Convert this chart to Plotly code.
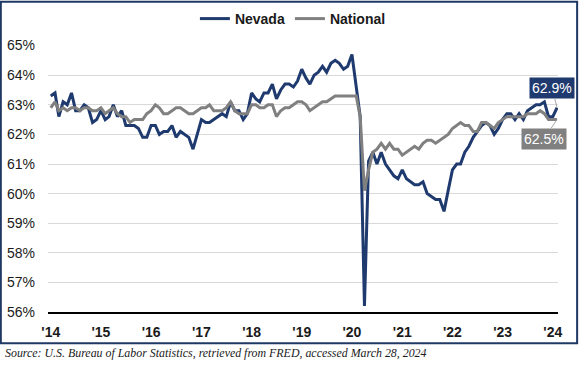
import plotly.graph_objects as go
import pandas as pd

dates = pd.date_range("2014-01-01", "2024-02-01", freq="MS")

nevada = [
    63.3, 63.4, 62.6, 63.1, 63.0, 63.4, 62.8, 62.8, 63.0, 62.9, 62.4, 62.5,
    62.8, 62.5, 62.6, 63.0, 62.6, 62.8, 62.3, 62.3, 62.3, 62.2, 61.9, 61.9,
    62.3, 62.3, 62.0, 62.1, 62.1, 62.3, 61.9, 62.1, 62.0, 61.9, 61.5, 62.0,
    62.5, 62.4, 62.4, 62.5, 62.6, 62.7, 62.6, 63.1, 62.8, 62.8, 62.5, 62.7,
    63.4, 63.2, 63.1, 63.4, 63.4, 63.7, 63.2, 63.5, 63.7, 63.7, 63.6, 63.8,
    64.2, 63.9, 63.7, 64.0, 64.1, 64.3, 64.1, 64.4, 64.5, 64.4, 64.2, 64.3,
    64.7, 63.6, 62.6, 56.2, 61.1, 61.4, 61.0, 61.4, 61.0, 60.8, 60.6, 60.5,
    60.8, 60.5, 60.4, 60.3, 60.3, 60.4, 60.0, 59.9, 59.8, 59.8, 59.4, 60.1,
    60.8, 61.0, 61.0, 61.4, 61.6, 61.9, 62.1, 62.3, 62.4, 62.3, 62.0, 62.2,
    62.5, 62.7, 62.7, 62.5, 62.7, 62.5, 62.8, 62.9, 63.0, 63.0, 63.1, 62.6,
    62.6, 62.9,
]

national = [
    62.9, 63.1, 62.8, 62.9, 62.8, 62.9, 62.9, 62.8, 62.9, 62.9, 62.8, 62.8,
    62.9, 62.7, 62.8, 62.9, 62.7, 62.6, 62.6, 62.4, 62.5, 62.5, 62.5, 62.7,
    62.8, 63.0, 62.9, 62.7, 62.7, 62.8, 62.9, 62.9, 62.8, 62.7, 62.7, 62.8,
    62.9, 62.9, 63.0, 62.8, 62.8, 62.8, 62.9, 63.1, 62.8, 62.7, 62.7, 62.7,
    63.0, 63.0, 62.9, 62.9, 63.0, 63.0, 62.6, 62.8, 62.9, 62.9, 63.0, 63.1,
    63.1, 63.0, 62.8, 62.9, 63.0, 63.1, 63.1, 63.2, 63.3, 63.3, 63.3, 63.3,
    63.3, 63.3, 62.6, 60.1, 60.8, 61.4, 61.5, 61.7, 61.5, 61.7, 61.5, 61.5,
    61.3, 61.4, 61.5, 61.6, 61.5, 61.7, 61.8, 61.8, 61.7, 61.8, 61.9, 62.0,
    62.2, 62.3, 62.4, 62.3, 62.3, 62.1, 62.1, 62.4, 62.4, 62.3, 62.2, 62.4,
    62.5, 62.6, 62.6, 62.6, 62.6, 62.6, 62.7, 62.7, 62.7, 62.8, 62.7, 62.5,
    62.5, 62.5,
]

series_names = ["Nevada", "National"]
series_colors = ["#1F3A6E", "#808080"]
source_text = "Source: U.S. Bureau of Labor Statistics, retrieved from FRED, accessed March 28, 2024"

fig = go.Figure()
fig.add_trace(go.Scatter(x=dates, y=nevada, mode="lines", name=series_names[0],
                         line=dict(color=series_colors[0], width=3)))
fig.add_trace(go.Scatter(x=dates, y=national, mode="lines", name=series_names[1],
                         line=dict(color=series_colors[1], width=3)))

# end labels
fig.add_annotation(x=dates[-1], y=nevada[-1], text=f"{nevada[-1]:.1f}%",
                   showarrow=True, arrowhead=0, arrowwidth=1, arrowcolor="#A6A6A6",
                   ax=-5, ay=-20, bgcolor=series_colors[0], borderpad=2,
                   font=dict(family="Liberation Sans, Arial", size=14, color="white"))
fig.add_annotation(x=dates[-1], y=national[-1], text=f"{national[-1]:.1f}%",
                   showarrow=True, arrowhead=0, arrowwidth=1, arrowcolor="#A6A6A6",
                   ax=-13, ay=19, bgcolor=series_colors[1], borderpad=2,
                   font=dict(family="Liberation Sans, Arial", size=14, color="white"))

# source
fig.add_annotation(xref="paper", yref="paper", x=-0.089, y=-0.155,
                   xanchor="left", yanchor="middle", showarrow=False,
                   text=f"<i>{source_text}</i>",
                   font=dict(family="Liberation Serif, serif", size=11.9, color="#1a1a1a"))

# outer border
fig.add_shape(type="rect", xref="paper", yref="paper",
              x0=-0.0925, x1=1.0375, y0=-0.1175, y1=1.162,
              line=dict(color="#1F3864", width=2), fillcolor="rgba(0,0,0,0)", layer="above")

fig.update_layout(
    width=580, height=367,
    margin=dict(l=48, r=22, t=45, b=55, autoexpand=False),
    paper_bgcolor="white", plot_bgcolor="white",
    showlegend=True,
    legend=dict(orientation="h", xref="container", yref="container",
                x=0.505, xanchor="center", y=1 - 19 / 367, yanchor="middle",
                font=dict(family="Liberation Sans, Arial", size=14, color="#1a1a1a", weight="bold"),
                itemwidth=30, bgcolor="rgba(0,0,0,0)", tracegroupgap=0),
    font=dict(family="Liberation Sans, Arial", size=14, color="#1a1a1a"),
)
fig.update_xaxes(
    type="date", range=["2013-12-12", "2024-02-08"],
    tick0="2014-01-01", dtick="M12", tickformat="'%y",
    showgrid=False, showline=True, linecolor="black", linewidth=1.5,
    ticks="", ticklabelstandoff=6, automargin=False,
    tickfont=dict(family="Liberation Sans, Arial", size=14, color="#1a1a1a", weight="bold"),
)
fig.update_yaxes(
    range=[56, 65.02], dtick=1, tick0=56, ticksuffix="%",
    showgrid=True, gridcolor="#D9D9D9", gridwidth=1,
    zeroline=False, showline=False, ticks="", ticklabelstandoff=12, automargin=False,
    tickfont=dict(family="Liberation Sans, Arial", size=14, color="#1a1a1a"),
)

fig.write_html("out.html", config={"displayModeBar": False},
               post_script="document.body.style.margin='0';")
